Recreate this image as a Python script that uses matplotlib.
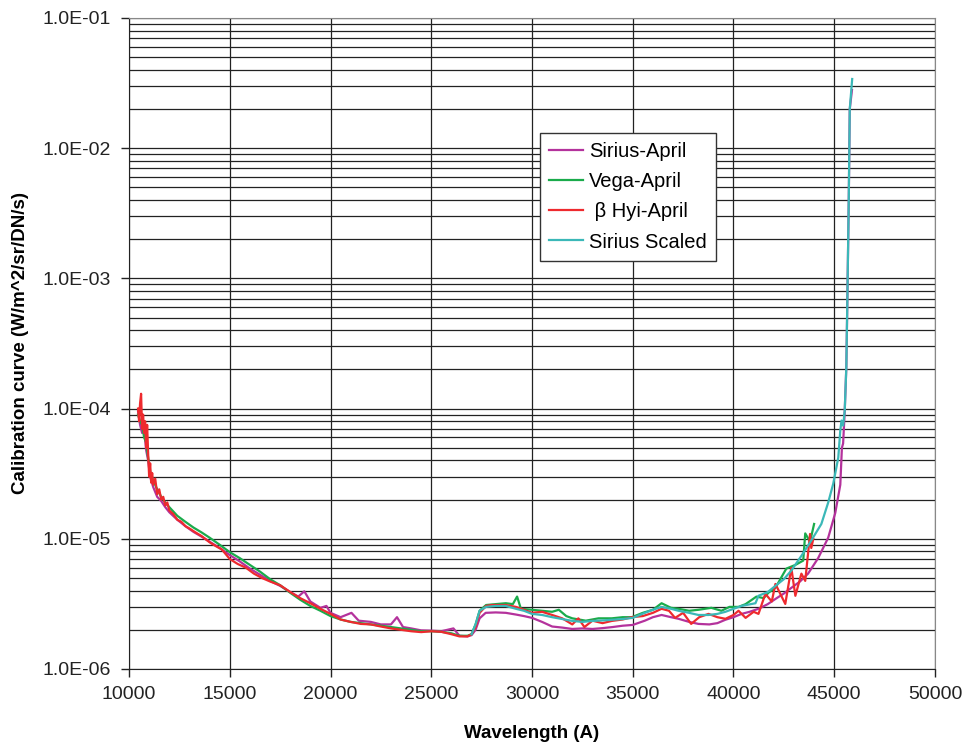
"""
  Calibration curve vs wavelength, four standard stars
"""
import matplotlib
matplotlib.use('Agg')
import matplotlib.pyplot as plt
from matplotlib.ticker import FixedLocator, FuncFormatter, LogLocator, NullFormatter

plt.rcParams['font.family'] = ['Liberation Sans', 'DejaVu Sans']

# Sirius-April
sirius_wl = [10450, 10550, 10650, 10750, 10850, 10950, 11050, 11200, 11400, 11600,
             11800, 12000, 12400, 12800, 13200, 13600, 14000, 14500, 15000, 15500,
             16000, 16500, 17000, 17500, 18000, 18400, 18700, 19000, 19500, 19800,
             20000, 20500, 21040, 21400, 22000, 22500, 23000, 23300, 23600, 24000,
             24500, 25000, 25500, 26100, 26400, 26800, 27000, 27200, 27400, 27700,
             28200, 28700, 29200, 29600, 30000, 30500, 31000, 31500, 32000, 32500,
             33000, 33500, 34000, 34500, 35000, 35600, 36000, 36430, 36900, 37270,
             37800, 38260, 38800, 39200, 39600, 40000, 40400, 40800, 41240, 41700,
             42080, 42500, 42870, 43300, 43700, 44200, 44700, 45050, 45300, 45380,
             45440, 45520, 45600, 45650, 45720, 45770, 45880]
sirius_val = [9.5e-5, 7.5e-5, 6.5e-5, 7.0e-5, 4.8e-5, 4.0e-5, 3.0e-5, 2.5e-5, 2.1e-5, 1.95e-5,
              1.75e-5, 1.6e-5, 1.4e-5, 1.25e-5, 1.13e-5, 1.04e-5, 9.5e-6, 8.5e-6, 7.5e-6, 6.7e-6,
              5.9e-6, 5.3e-6, 4.75e-6, 4.35e-6, 3.9e-6, 3.6e-6, 3.95e-6, 3.3e-6, 2.95e-6, 3.05e-6,
              2.7e-6, 2.5e-6, 2.7e-6, 2.35e-6, 2.3e-6, 2.2e-6, 2.2e-6, 2.5e-6, 2.1e-6, 2.05e-6,
              1.98e-6, 1.97e-6, 1.95e-6, 2.05e-6, 1.8e-6, 1.78e-6, 1.82e-6, 2.0e-6, 2.45e-6, 2.7e-6,
              2.72e-6, 2.7e-6, 2.62e-6, 2.55e-6, 2.47e-6, 2.3e-6, 2.12e-6, 2.08e-6, 2.03e-6, 2.05e-6,
              2.03e-6, 2.06e-6, 2.1e-6, 2.15e-6, 2.18e-6, 2.35e-6, 2.5e-6, 2.6e-6, 2.5e-6, 2.43e-6,
              2.3e-6, 2.22e-6, 2.2e-6, 2.25e-6, 2.39e-6, 2.5e-6, 2.65e-6, 2.75e-6, 2.9e-6, 3.15e-6,
              3.45e-6, 3.8e-6, 4.2e-6, 4.7e-6, 5.4e-6, 7.1e-6, 1.02e-5, 1.58e-5, 2.6e-5, 5.0e-5,
              5.4e-5, 9.6e-5, 2.1e-4, 6.8e-4, 4.0e-3, 2.0e-2, 2.8e-2]

# Vega-April
vega_wl = [10450, 10550, 10650, 10750, 10850, 10950, 11050, 11200, 11400, 11600,
           11800, 12000, 12400, 12800, 13200, 13600, 14000, 14500, 15000, 15500,
           16000, 16500, 17000, 17500, 18000, 18500, 19000, 19500, 20000, 20500,
           21000, 21500, 22000, 22500, 23000, 23500, 24000, 24500, 25000, 25500,
           26000, 26400, 26800, 27000, 27200, 27400, 27720, 28200, 28700, 29050,
           29260, 29450, 30000, 30500, 31000, 31330, 31700, 32000, 32670, 33300,
           33960, 34500, 34950, 35500, 36000, 36430, 36900, 37270, 37800, 38260,
           38900, 39400, 39800, 40250, 40600, 41140, 41500, 41730, 42080, 42620,
           43070, 43460, 43560, 43800, 44000]
vega_val = [9.0e-5, 8.0e-5, 7.5e-5, 6.0e-5, 5.5e-5, 4.2e-5, 3.3e-5, 2.8e-5, 2.4e-5, 2.1e-5,
            1.9e-5, 1.75e-5, 1.5e-5, 1.35e-5, 1.22e-5, 1.12e-5, 1.02e-5, 9.0e-6, 7.9e-6, 7.1e-6,
            6.3e-6, 5.6e-6, 4.9e-6, 4.4e-6, 3.85e-6, 3.4e-6, 3.05e-6, 2.8e-6, 2.55e-6, 2.4e-6,
            2.3e-6, 2.25e-6, 2.2e-6, 2.15e-6, 2.1e-6, 2.05e-6, 2.0e-6, 1.95e-6, 1.95e-6, 1.93e-6,
            1.88e-6, 1.8e-6, 1.8e-6, 1.85e-6, 2.2e-6, 2.8e-6, 3.1e-6, 3.15e-6, 3.2e-6, 3.15e-6,
            3.6e-6, 2.9e-6, 2.85e-6, 2.8e-6, 2.75e-6, 2.85e-6, 2.55e-6, 2.45e-6, 2.35e-6, 2.45e-6,
            2.45e-6, 2.5e-6, 2.5e-6, 2.7e-6, 2.85e-6, 3.2e-6, 2.95e-6, 2.9e-6, 2.8e-6, 2.85e-6,
            2.95e-6, 2.8e-6, 3.0e-6, 3.0e-6, 3.15e-6, 3.6e-6, 3.5e-6, 3.85e-6, 4.2e-6, 5.9e-6,
            6.3e-6, 6.8e-6, 1.1e-5, 9.5e-6, 1.3e-5]

# beta Hyi-April
hyi_wl = [10450, 10500, 10550, 10600, 10650, 10700, 10750, 10800, 10850, 10900,
          10950, 11000, 11050, 11100, 11150, 11200, 11300, 11400, 11500, 11600,
          11700, 11800, 11900, 12000, 12200, 12400, 12600, 12800, 13000, 13300,
          13600, 14000, 14300, 14600, 15000, 15400, 15800, 16200, 16600, 17000,
          17500, 18000, 18500, 19000, 19500, 20000, 20500, 21000, 21500, 22000,
          22500, 23000, 23500, 24000, 24500, 25000, 25500, 26000, 26400, 26800,
          27000, 27200, 27400, 27720, 28000, 28700, 29200, 29600, 30000, 30500,
          31000, 31500, 32000, 32300, 32600, 33000, 33500, 33960, 34500, 34950,
          35500, 36000, 36430, 36800, 37100, 37500, 37900, 38300, 38760, 39200,
          39600, 40000, 40250, 40600, 41000, 41240, 41580, 41900, 42080, 42570,
          42870, 43070, 43370, 43560, 43800, 43860, 43960]
hyi_val = [1.0e-4, 8.0e-5, 1.1e-4, 1.3e-4, 7.0e-5, 9.0e-5, 6.5e-5, 8.0e-5, 5.0e-5, 7.5e-5,
           4.5e-5, 3.0e-5, 3.8e-5, 2.7e-5, 3.2e-5, 2.6e-5, 2.9e-5, 2.2e-5, 2.4e-5, 2.0e-5,
           2.1e-5, 1.8e-5, 1.9e-5, 1.65e-5, 1.55e-5, 1.4e-5, 1.35e-5, 1.25e-5, 1.2e-5, 1.12e-5,
           1.05e-5, 9.4e-6, 8.8e-6, 8.3e-6, 7.0e-6, 6.4e-6, 6.0e-6, 5.4e-6, 5.0e-6, 4.7e-6,
           4.4e-6, 3.9e-6, 3.5e-6, 3.2e-6, 2.9e-6, 2.65e-6, 2.4e-6, 2.3e-6, 2.22e-6, 2.2e-6,
           2.12e-6, 2.05e-6, 2.0e-6, 1.95e-6, 1.92e-6, 1.95e-6, 1.93e-6, 1.85e-6, 1.78e-6, 1.78e-6,
           1.85e-6, 2.1e-6, 2.7e-6, 3.05e-6, 3.1e-6, 3.1e-6, 3.0e-6, 2.85e-6, 2.7e-6, 2.75e-6,
           2.6e-6, 2.45e-6, 2.2e-6, 2.45e-6, 2.1e-6, 2.35e-6, 2.25e-6, 2.34e-6, 2.4e-6, 2.5e-6,
           2.55e-6, 2.7e-6, 2.9e-6, 2.8e-6, 2.47e-6, 2.7e-6, 2.22e-6, 2.5e-6, 2.65e-6, 2.5e-6,
           2.43e-6, 2.6e-6, 2.8e-6, 2.47e-6, 2.75e-6, 2.65e-6, 3.78e-6, 3.3e-6, 4.5e-6, 3.16e-6,
           5.98e-6, 3.65e-6, 5.4e-6, 4.75e-6, 1.09e-5, 8.5e-6, 1.0e-5]

# Sirius Scaled
scaled_wl = [27000, 27200, 27400, 27720, 28200, 28700, 29200, 29600, 30000, 30500,
             31000, 31500, 32000, 32500, 33000, 33500, 34000, 34500, 35000, 35600,
             36000, 36430, 36900, 37270, 37800, 38260, 38760, 39200, 39600, 40000,
             40400, 41090, 41240, 41700, 42080, 42500, 42870, 43370, 43860, 44360,
             44700, 44950, 45200, 45300, 45360, 45440, 45520, 45600, 45650, 45720,
             45770, 45890]
scaled_val = [1.85e-6, 2.2e-6, 2.8e-6, 3.0e-6, 3.05e-6, 3.05e-6, 2.9e-6, 2.8e-6, 2.65e-6, 2.6e-6,
              2.5e-6, 2.42e-6, 2.34e-6, 2.3e-6, 2.34e-6, 2.36e-6, 2.39e-6, 2.42e-6, 2.47e-6, 2.7e-6,
              2.85e-6, 3.0e-6, 2.9e-6, 2.8e-6, 2.7e-6, 2.6e-6, 2.6e-6, 2.65e-6, 2.75e-6, 2.9e-6,
              3.05e-6, 3.2e-6, 3.65e-6, 3.9e-6, 4.35e-6, 4.9e-6, 5.7e-6, 7.4e-6, 9.7e-6, 1.3e-5,
              1.9e-5, 2.65e-5, 4.2e-5, 6.8e-5, 8.1e-5, 7.4e-5, 9.6e-5, 2.1e-4, 6.8e-4, 4.0e-3,
              2.0e-2, 3.4e-2]

series_names = ['Sirius-April', 'Vega-April', ' \u03b2 Hyi-April', 'Sirius Scaled']
series_colors = ['#B4329C', '#1AAB4B', '#EE2A2E', '#3BB8B8']
x_ticks = [10000, 15000, 20000, 25000, 30000, 35000, 40000, 45000, 50000]


fig = plt.figure(figsize=(9.66, 7.42), dpi=100)
ax = fig.add_axes([129/966, 1 - 669/742, (935-129)/966, (669-18)/742])

data = [(sirius_wl, sirius_val), (vega_wl, vega_val), (hyi_wl, hyi_val), (scaled_wl, scaled_val)]
for (wl, val), name, col in zip(data, series_names, series_colors):
  ax.plot(wl, val, color=col, lw=1.6, label=name)

ax.set_yscale('log')
ax.set_ylim(1e-6, 1e-1)
ax.set_xlim(10000, 50000)

ax.xaxis.set_major_locator(FixedLocator(x_ticks))
ax.yaxis.set_major_locator(LogLocator(base=10, numticks=10))
ax.yaxis.set_minor_locator(LogLocator(base=10, subs=range(2, 10), numticks=20))
ax.yaxis.set_minor_formatter(NullFormatter())
ax.yaxis.set_major_formatter(FuncFormatter(lambda v, p: '%.1E' % v))

ax.grid(True, which='major', axis='both', color='#222222', lw=0.9)
ax.grid(True, which='minor', axis='y', color='#222222', lw=0.9)
ax.set_axisbelow(True)

ax.tick_params(axis='both', which='major', direction='out', length=6, width=1,
               color='#222222', labelsize=14, labelcolor='#222222')
ax.tick_params(axis='x', pad=6)
ax.tick_params(axis='y', pad=7)
ax.tick_params(axis='y', which='minor', length=0)
for s in ['top', 'right']:
  ax.spines[s].set_color('#888888')
for s in ['left', 'bottom']:
  ax.spines[s].set_color('#222222')

ax.set_xlabel('Wavelength (A)', fontsize=13.5, fontweight='bold', labelpad=16)
ax.set_ylabel('Calibration curve (W/m^2/sr/DN/s)', fontsize=13.5, fontweight='bold', labelpad=10)

leg = ax.legend(loc='upper left', bbox_to_anchor=(0.51, 0.823), borderaxespad=0,
                fontsize=14.5, fancybox=False, framealpha=1, edgecolor='#333333',
                handlelength=1.7, handletextpad=0.3, labelspacing=0.55, borderpad=0.45)
leg.get_frame().set_linewidth(1.0)

plt.savefig('out.png', dpi=100)
